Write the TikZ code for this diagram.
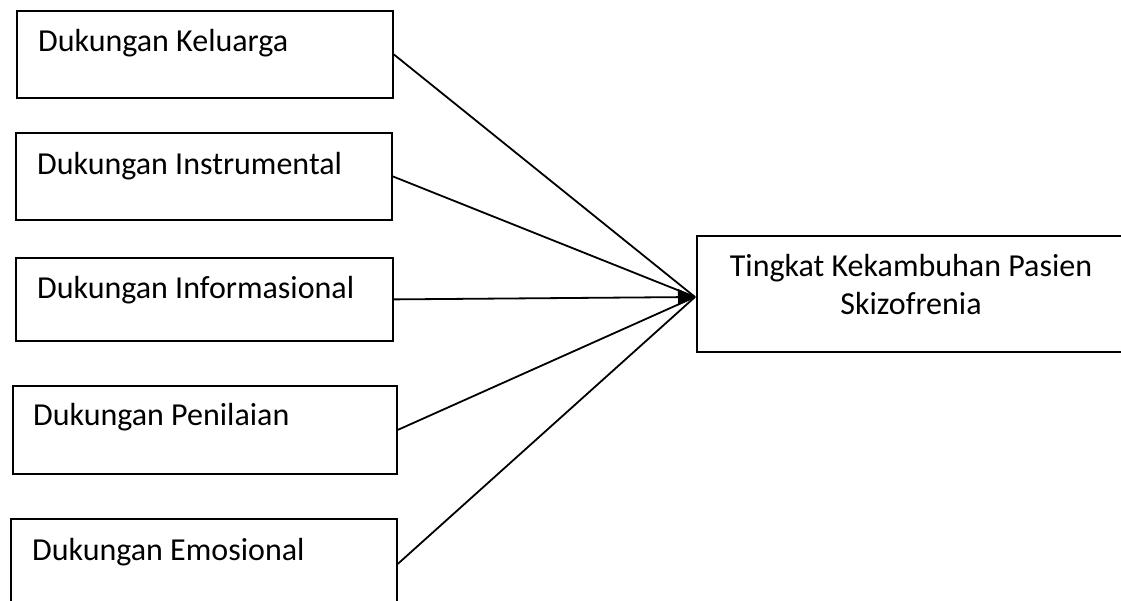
\documentclass[tikz,border=0pt]{standalone}
\usepackage{fontspec}
\setmainfont{Carlito}
\usetikzlibrary{arrows.meta}
\begin{document}
\begin{tikzpicture}[x=1pt,y=-1pt,
  box/.style={draw,line width=1.8pt,inner sep=0pt,anchor=north west},
  lbl/.style={anchor=base west,inner sep=0pt,font=\fontsize{32}{38}\selectfont},
  conn/.style={line width=1.8pt}]
\clip (0,0) rectangle (1121,601);
\node[box,minimum width=376pt,minimum height=87pt] (b1) at (16,10) {};
\node[box,minimum width=376pt,minimum height=87pt] (b2) at (15,132) {};
\node[box,minimum width=377pt,minimum height=83pt] (b3) at (15,257) {};
\node[box,minimum width=384pt,minimum height=88pt] (b4) at (12,385) {};
\node[box,minimum width=386pt,minimum height=90pt] (b5) at (10,518) {};
\node[box,minimum width=434pt,minimum height=116pt] (t) at (696,235) {};
\node[lbl] (l1) at (38,52) {Dukungan Keluarga};
\node[lbl] (l2) at (37,175) {Dukungan Instrumental};
\node[lbl] (l3) at (37,299) {Dukungan Informasional};
\node[lbl] (l4) at (33,425) {Dukungan Penilaian};
\node[lbl] (l5) at (32,560) {Dukungan Emosional};
\node[anchor=base,inner sep=0pt,align=center,font=\fontsize{32}{38}\selectfont] (lt) at (911,315) {Tingkat Kekambuhan Pasien\\Skizofrenia};
\coordinate (hub) at (695,297);
\draw[conn] (b1.east) -- (hub);
\draw[conn] (b2.east) -- (hub);
\draw[conn,-{Triangle[length=17pt,width=16pt]}] (b3.east) -- (hub);
\draw[conn] (b4.east) -- (hub);
\draw[conn] (b5.east) -- (hub);
\end{tikzpicture}
\end{document}
